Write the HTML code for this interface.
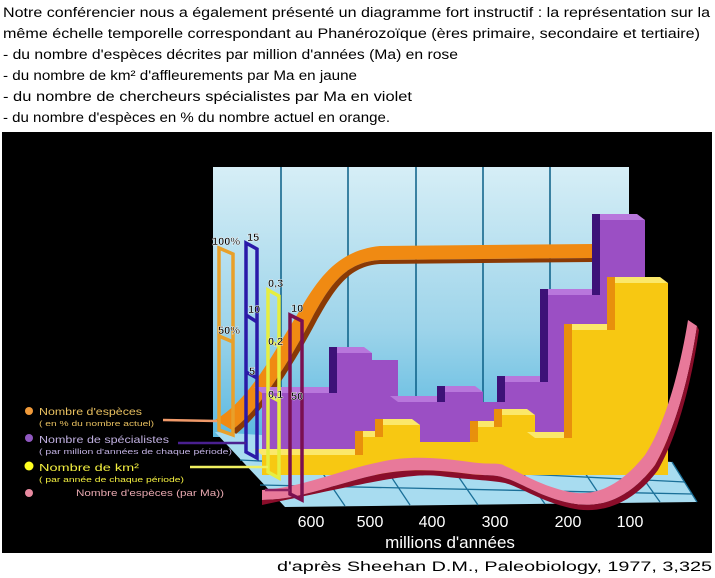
<!DOCTYPE html>
<html><head><meta charset="utf-8"><style>
html,body{margin:0;padding:0;background:#fff;width:715px;height:578px;overflow:hidden}
svg{display:block}
</style></head><body>
<svg width="715" height="578" viewBox="0 0 715 578" xmlns="http://www.w3.org/2000/svg" font-family="Liberation Sans, sans-serif">
<defs>
<linearGradient id="wall" x1="0" y1="0" x2="0" y2="1">
<stop offset="0" stop-color="#d6eef6"/><stop offset="0.6" stop-color="#9dd4ea"/><stop offset="1" stop-color="#5cb9e0"/></linearGradient>
</defs>
<g font-size="13.5" fill="#000">
<text x="3" y="17" textLength="707" lengthAdjust="spacingAndGlyphs">Notre conférencier nous a également présenté un diagramme fort instructif : la représentation sur la</text>
<text x="3" y="38" textLength="697" lengthAdjust="spacingAndGlyphs">même échelle temporelle correspondant au Phanérozoïque (ères primaire, secondaire et tertiaire)</text>
<text x="3" y="59" textLength="455" lengthAdjust="spacingAndGlyphs">- du nombre d'espèces décrites par million d'années (Ma) en rose</text>
<text x="3" y="80" textLength="354" lengthAdjust="spacingAndGlyphs">- du nombre de km² d'affleurements par Ma en jaune</text>
<text x="3" y="101" textLength="409" lengthAdjust="spacingAndGlyphs">- du nombre de chercheurs spécialistes par Ma en violet</text>
<text x="3" y="122" textLength="387" lengthAdjust="spacingAndGlyphs">- du nombre d'espèces en % du nombre actuel en orange.</text>
<text x="277" y="571" textLength="435" lengthAdjust="spacingAndGlyphs">d'après Sheehan D.M., Paleobiology, 1977, 3,325</text>
</g>
<rect x="2" y="132" width="710" height="421" fill="#000"/>
<rect x="213" y="167" width="416" height="270" fill="url(#wall)"/>
<g stroke="#0a5f86" stroke-width="1.5">
<line x1="281" y1="167" x2="281" y2="437"/><line x1="348" y1="167" x2="348" y2="437"/>
<line x1="416" y1="167" x2="416" y2="437"/><line x1="483" y1="167" x2="483" y2="437"/>
<line x1="550" y1="167" x2="550" y2="437"/></g>
<polygon points="215,432 672,462 697,502 285,507" fill="#a8dcf0"/>
<g stroke="#1a6f98" stroke-width="1.3" fill="none">
<line x1="240" y1="460" x2="685" y2="482"/><line x1="260" y1="485" x2="692" y2="494"/>
<line x1="300" y1="440" x2="345" y2="506"/><line x1="370" y1="445" x2="410" y2="505"/>
<line x1="440" y1="450" x2="478" y2="505"/><line x1="510" y1="455" x2="545" y2="504"/>
<line x1="575" y1="458" x2="605" y2="503"/><line x1="630" y1="460" x2="660" y2="502"/>
<line x1="672" y1="462" x2="697" y2="502"/></g>
<path d="M215,420 C250,400 275,350 300,310 C320,275 340,250 380,246 L592,244 L592,258 L380,260 C345,262 330,285 312,318 C290,360 260,410 232,430 Z" fill="#f08a12"/>
<path d="M232,430 C260,410 290,360 312,318 C330,285 345,262 380,260 L592,258 L592,262 L380,264 C348,266 334,290 316,322 C294,364 262,414 236,434Z" fill="#8a3a05"/>
<g fill="#9b4fc4">
<path d="M262,393 H337 V353 H372 V360 H398 V402 H445 V392 H483 V402 H505 V382 H548 V295 H600 V220 H645 V460 H262Z"/>
</g>
<g fill="#b877dc">
<polygon points="262,393 254,387 329,387 337,393"/>
<polygon points="337,353 329,347 364,347 372,353"/>
<polygon points="398,402 390,396 437,396 445,402"/>
<polygon points="445,392 437,386 475,386 483,392"/>
<polygon points="505,382 497,376 540,376 548,382"/>
<polygon points="548,295 540,289 592,289 600,295"/>
<polygon points="600,220 592,214 637,214 645,220"/>
</g>
<g fill="#3d1278">
<rect x="329" y="347" width="8" height="46"/><rect x="437" y="386" width="8" height="16"/>
<rect x="497" y="376" width="8" height="26"/><rect x="540" y="289" width="8" height="93"/>
<rect x="592" y="214" width="8" height="81"/></g>
<path d="M262,455 H363 V437 H383 V425 H420 V442 H478 V427 H502 V415 H535 V438 H572 V330 H615 V283 H668 V475 H262Z" fill="#f7c812"/>
<g fill="#fbe86a">
<polygon points="262,455 254,449 355,449 363,455"/>
<polygon points="363,437 355,431 375,431 383,437"/>
<polygon points="383,425 375,419 412,419 420,425"/>
<polygon points="478,427 470,421 494,421 502,427"/>
<polygon points="502,415 494,409 527,409 535,415"/>
<polygon points="535,438 527,432 564,432 572,438"/>
<polygon points="572,330 564,324 607,324 615,330"/>
<polygon points="615,283 607,277 660,277 668,283"/>
</g>
<g fill="#e8900c">
<rect x="355" y="431" width="8" height="24"/><rect x="375" y="419" width="8" height="18"/>
<rect x="470" y="421" width="8" height="21"/><rect x="494" y="409" width="8" height="18"/>
<rect x="564" y="324" width="8" height="114"/><rect x="607" y="277" width="8" height="53"/></g>
<path d="M262,490 C300,488 340,470 380,462 C410,455 440,458 470,462 C490,465 500,462 505,466 C520,472 540,486 570,492 C600,498 625,480 645,455 C665,425 680,370 688,320 L697,326 C690,375 675,430 655,465 C630,498 600,510 570,503 C540,497 520,482 505,478 C495,474 485,476 470,474 C440,470 410,468 380,474 C340,482 300,500 262,500Z" fill="#e8799a"/>
<path d="M262,500 C300,500 340,482 380,474 C410,468 440,470 470,474 C485,476 495,474 505,478 C520,482 540,497 570,503 C600,510 630,498 655,465 C675,430 690,375 697,326 L699,330 C692,380 678,435 658,470 C632,505 600,515 570,508 C540,501 520,487 505,483 C490,480 470,480 440,476 C410,473 380,480 262,505Z" fill="#8a0d2a"/>
<g fill="none" stroke-width="3.5">
<path d="M219,248 L233,254 L233,435 L219,430 Z" stroke="#e8a02a"/>
<path d="M246,243 L257,249 L257,458 L246,452 Z M246,315 L257,322 M246,372 L257,378" stroke="#2a1aa8"/>
<path d="M268,290 L279,296 L279,478 L268,472 Z" stroke="#e6ee40"/>
<path d="M290,315 L302,321 L302,500 L290,494 Z" stroke="#7a1050"/>
<line x1="219" y1="336" x2="233" y2="342" stroke="#e8a02a"/>
<line x1="268" y1="340" x2="279" y2="346" stroke="#e6ee40"/>
<line x1="268" y1="395" x2="279" y2="401" stroke="#e6ee40"/>
</g>
<g font-size="11" font-weight="bold" fill="#000" stroke="#fff" stroke-width="0.4">
<text x="212" y="245">100%</text><text x="247" y="241">15</text><text x="218" y="334">50%</text>
<text x="248" y="313">10</text><text x="249" y="375">5</text><text x="268" y="287">0,3</text>
<text x="268" y="345">0,2</text><text x="268" y="398">0,1</text><text x="291" y="312">10</text><text x="291" y="400">50</text>
</g>
<circle cx="29" cy="411" r="4" fill="#f09a3a"/>
<circle cx="29" cy="438" r="4" fill="#9058c0"/>
<circle cx="29" cy="466" r="4.5" fill="#ffff20"/>
<circle cx="29" cy="493" r="4" fill="#e88aa0"/>
<text x="39" y="415" font-size="10.5" fill="#e8c060" textLength="103" lengthAdjust="spacingAndGlyphs">Nombre d'espèces</text>
<text x="39" y="426" font-size="7" fill="#e8c060" textLength="115" lengthAdjust="spacingAndGlyphs">( en % du nombre actuel)</text>
<text x="39" y="443" font-size="10.5" fill="#c0b0e0" textLength="130" lengthAdjust="spacingAndGlyphs">Nombre de spécialistes</text>
<text x="39" y="454" font-size="7" fill="#c0b0e0" textLength="193" lengthAdjust="spacingAndGlyphs">( par million d'années de chaque période)</text>
<text x="39" y="471" font-size="10.5" fill="#f4f040" textLength="100" lengthAdjust="spacingAndGlyphs">Nombre de km²</text>
<text x="39" y="482" font-size="7" fill="#f4f040" textLength="145" lengthAdjust="spacingAndGlyphs">( par année de chaque période)</text>
<text x="76" y="496" font-size="9.5" fill="#e8a8b0" textLength="148" lengthAdjust="spacingAndGlyphs">Nombre d'espèces (par Ma))</text>
<g stroke-width="2.5">
<line x1="163" y1="420" x2="217" y2="421" stroke="#f09a6a"/>
<line x1="178" y1="443" x2="246" y2="443" stroke="#4a2090"/>
<line x1="190" y1="467" x2="268" y2="467" stroke="#f0f060"/>
<line x1="265" y1="490" x2="290" y2="490" stroke="#8a2060"/>
</g>
<g font-size="16" fill="#fff" text-anchor="middle">
<text x="311" y="527">600</text><text x="370" y="527">500</text><text x="432" y="527">400</text>
<text x="495" y="527">300</text><text x="568" y="527">200</text><text x="630" y="527">100</text>
<text x="450" y="548" font-size="17">millions d'années</text>
</g>
</svg>
</body></html>
